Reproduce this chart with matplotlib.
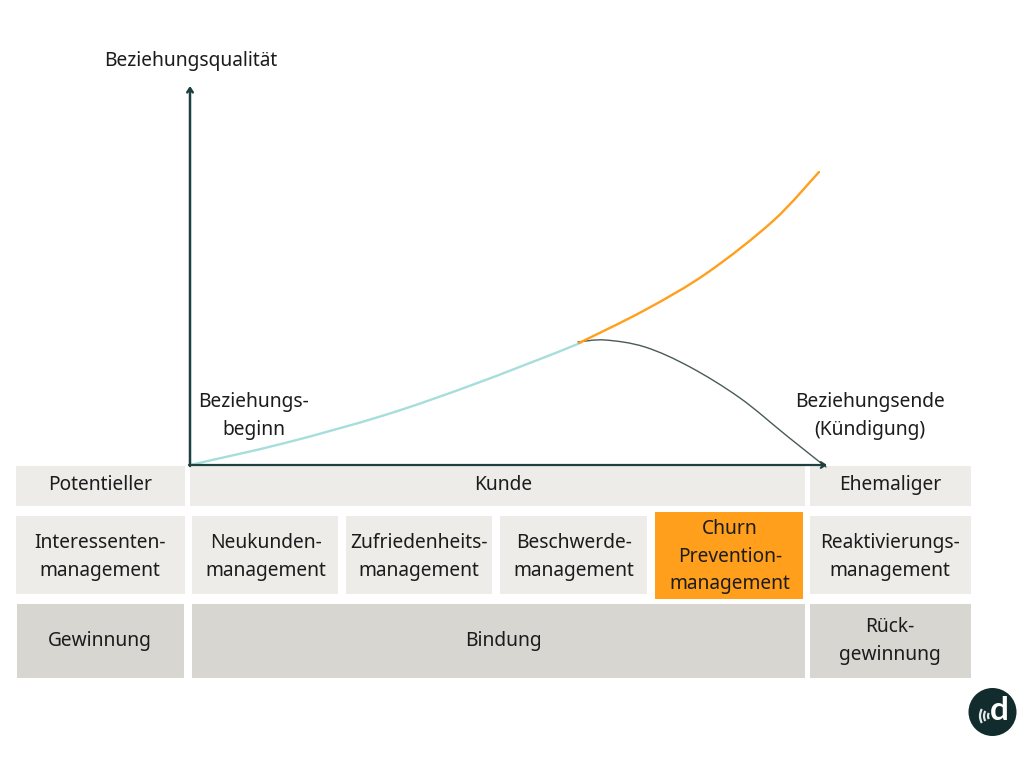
import matplotlib
matplotlib.use("Agg")
import matplotlib.pyplot as plt
from matplotlib.patches import Rectangle, Circle, FancyArrowPatch, PathPatch, Arc
from matplotlib.path import Path

FONT = "Noto Sans"
DARK = "#1f4040"
TEXT = "#1c1c1c"
LIGHT = "#edecE9"
MID = "#d8d6d0"
ORANGE = "#ff9f1c"

teal_x = [190, 285, 385, 472, 558, 582]
teal_y = [465, 443, 415, 385, 352, 342]
orange_x = [579, 645, 707, 773, 819]
orange_y = [343, 310, 273, 221, 172]
grey_x = [578, 605, 645, 690, 740, 787, 826]
grey_y = [342, 340, 347, 367, 398, 436, 467]

boxes_row1 = [("Potentieller", 16, 185, 100), ("Kunde", 190, 805, 503), ("Ehemaliger", 810, 971, 890)]
boxes_row2 = [("Interessenten-\nmanagement", 16, 185, 100), ("Neukunden-\nmanagement", 192, 338, 266),
              ("Zufriedenheits-\nmanagement", 346, 492, 419), ("Beschwerde-\nmanagement", 500, 647, 574),
              ("Reaktivierungs-\nmanagement", 810, 971, 890)]
boxes_row3 = [("Gewinnung", 17, 184, 100), ("Bindung", 192, 805, 503), ("Rück-\ngewinnung", 810, 971, 890)]
highlight = ("Churn\nPrevention-\nmanagement", 655, 803, 730)

FS = 13.8
LS = 1.5

fig = plt.figure(figsize=(10.24, 7.68), dpi=100, facecolor="white")
ax = fig.add_axes([0, 0, 1, 1])
ax.set_xlim(0, 1024)
ax.set_ylim(768, 0)
ax.axis("off")


def box(label, x0, x1, tx, y0, y1, color, ty):
    ax.add_patch(Rectangle((x0, y0), x1 - x0, y1 - y0, facecolor=color, edgecolor="none", zorder=1))
    ax.text(tx, ty, label, ha="center", va="center", fontsize=FS, family=FONT,
            color=TEXT, linespacing=LS, zorder=3)


def smooth(xs, ys, color, lw, z):
    """Smooth curve through the read points, drawn as cubic Bezier segments."""
    pts = list(zip(xs, ys))
    verts, codes = [pts[0]], [Path.MOVETO]
    n = len(pts)
    for i in range(n - 1):
        p0 = pts[max(i - 1, 0)]
        p1 = pts[i]
        p2 = pts[i + 1]
        p3 = pts[min(i + 2, n - 1)]
        c1 = (p1[0] + (p2[0] - p0[0]) / 6, p1[1] + (p2[1] - p0[1]) / 6)
        c2 = (p2[0] - (p3[0] - p1[0]) / 6, p2[1] - (p3[1] - p1[1]) / 6)
        verts += [c1, c2, p2]
        codes += [Path.CURVE4] * 3
    ax.add_patch(PathPatch(Path(verts, codes), facecolor="none", edgecolor=color, lw=lw,
                           capstyle="round", zorder=z))


for lab, a, b, t in boxes_row1:
    box(lab, a, b, t, 466, 506, LIGHT, 485)
for lab, a, b, t in boxes_row2:
    box(lab, a, b, t, 516, 594, LIGHT, 557)
box(highlight[0], highlight[1], highlight[2], highlight[3], 512, 599, ORANGE, 556.5)
for lab, a, b, t in boxes_row3:
    box(lab, a, b, t, 604, 678, MID, 641)

smooth(grey_x, grey_y, "#4a5a5a", 1.0, 4)
smooth(teal_x, teal_y, "#a6dedb", 1.7, 4)
smooth(orange_x, orange_y, ORANGE, 1.7, 5)

ax.add_patch(FancyArrowPatch((190, 466), (190, 86), arrowstyle="->,head_length=3,head_width=2",
                             color=DARK, lw=1.8, shrinkA=0, shrinkB=0, zorder=6))
ax.add_patch(FancyArrowPatch((189, 465), (827, 465), arrowstyle="->,head_length=3,head_width=2",
                             color=DARK, lw=1.6, shrinkA=0, shrinkB=0, zorder=6))

ax.text(191, 61, "Beziehungsqualität", ha="center", va="center", fontsize=FS, family=FONT, color=TEXT)
ax.text(254, 416, "Beziehungs-\nbeginn", ha="center", va="center", fontsize=FS, family=FONT,
        color=TEXT, linespacing=LS)
ax.text(870, 416, "Beziehungsende\n(Kündigung)", ha="center", va="center", fontsize=FS, family=FONT,
        color=TEXT, linespacing=LS)

ax.add_patch(Circle((992.5, 712), 24, facecolor="#122c2e", edgecolor="none", zorder=6))
ax.text(999, 710, "d", ha="center", va="center", fontsize=24, fontweight="bold",
        family="Lato", color="white", zorder=7)
for r, h in [(6, 150), (10, 150), (14, 150)]:
    ax.add_patch(Arc((994, 716), 2 * r, 2 * r, theta1=h, theta2=360 - h, color="#dfe9e7", lw=1.6, zorder=7))

fig.savefig("out.png", dpi=100, facecolor="white")
